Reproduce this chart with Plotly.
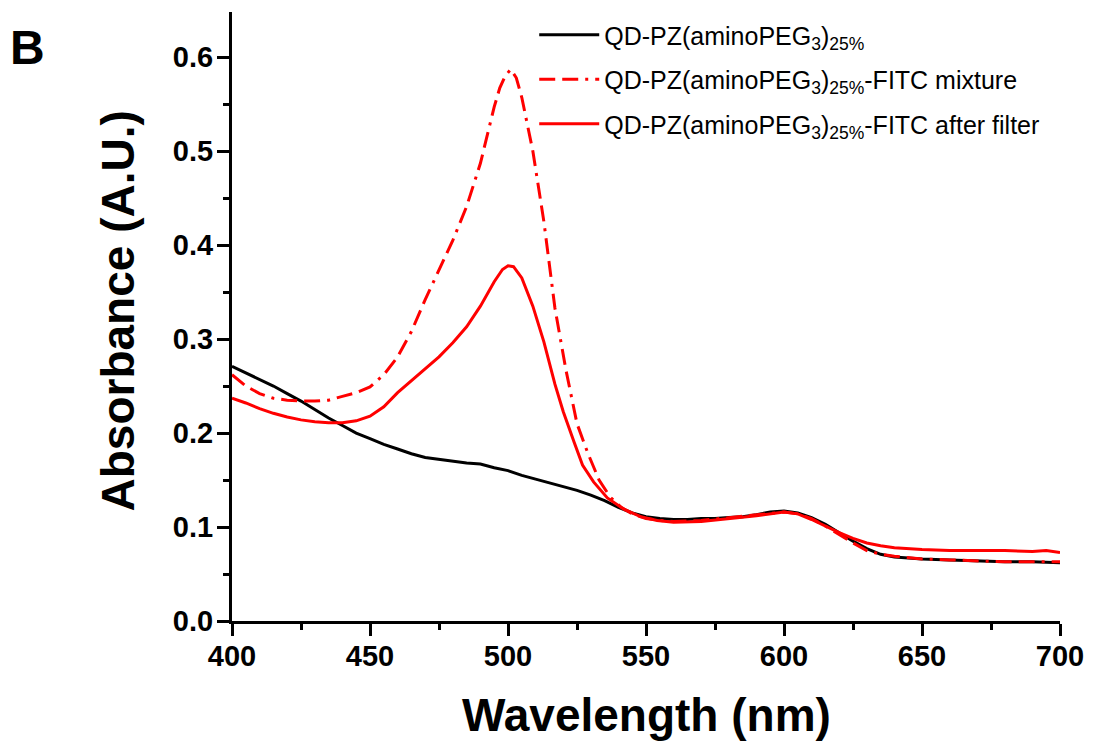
import plotly.graph_objects as go

# --- data ---
wl_qd = [400, 405, 410, 415, 420, 425, 430, 435, 440, 445, 450, 455, 460, 465, 470, 475,
         480, 485, 490, 495, 500, 505, 510, 515, 520, 525, 530, 535, 540, 545, 550, 555,
         560, 565, 570, 575, 580, 585, 590, 595, 600, 605, 610, 615, 620, 625, 630, 635,
         640, 645, 650, 660, 670, 680, 690, 700]
abs_qd = [0.271, 0.264, 0.257, 0.250, 0.242, 0.234, 0.225, 0.216, 0.208, 0.200, 0.194,
          0.188, 0.183, 0.178, 0.174, 0.172, 0.170, 0.168, 0.167, 0.163, 0.160, 0.155,
          0.151, 0.147, 0.143, 0.139, 0.134, 0.128, 0.121, 0.115, 0.111, 0.109, 0.108,
          0.108, 0.109, 0.109, 0.110, 0.111, 0.113, 0.116, 0.117, 0.115, 0.110, 0.103,
          0.094, 0.085, 0.077, 0.071, 0.068, 0.067, 0.066, 0.065, 0.064, 0.063, 0.063, 0.062]

wl_mix = [400, 405, 410, 415, 420, 425, 430, 435, 440, 445, 450, 455, 460, 465, 470, 475,
          480, 485, 490, 495, 497, 499, 501, 503, 505, 509, 513, 517, 521, 525, 529, 533,
          537, 541, 545, 550, 555, 560, 570, 580, 590, 600, 605, 610, 615, 620, 625, 630,
          635, 640, 650, 660, 670, 680, 690, 700]
abs_mix = [0.262, 0.250, 0.242, 0.237, 0.235, 0.234, 0.234, 0.235, 0.239, 0.243, 0.249,
           0.262, 0.281, 0.308, 0.342, 0.374, 0.405, 0.441, 0.487, 0.547, 0.567, 0.580,
           0.587, 0.578, 0.557, 0.500, 0.425, 0.333, 0.267, 0.210, 0.178, 0.150, 0.132,
           0.121, 0.114, 0.109, 0.107, 0.106, 0.107, 0.110, 0.113, 0.116, 0.114, 0.109,
           0.101, 0.092, 0.083, 0.075, 0.071, 0.069, 0.066, 0.065, 0.064, 0.063, 0.063, 0.063]

wl_filt = [400, 405, 410, 415, 420, 425, 430, 435, 440, 445, 450, 455, 460, 465, 470, 475,
           480, 485, 490, 495, 498, 500, 502, 505, 509, 513, 517, 520, 524, 527, 531, 536,
           542, 548, 554, 560, 570, 580, 590, 600, 605, 610, 615, 620, 625, 630, 635, 640,
           650, 660, 670, 680, 690, 695, 700]
abs_filt = [0.237, 0.232, 0.226, 0.221, 0.217, 0.214, 0.212, 0.211, 0.211, 0.213, 0.218,
            0.228, 0.243, 0.256, 0.268, 0.281, 0.296, 0.313, 0.335, 0.361, 0.374, 0.378,
            0.377, 0.365, 0.335, 0.297, 0.252, 0.223, 0.190, 0.166, 0.148, 0.131, 0.119,
            0.111, 0.107, 0.105, 0.106, 0.109, 0.112, 0.116, 0.114, 0.108, 0.101, 0.094,
            0.088, 0.083, 0.080, 0.078, 0.076, 0.075, 0.075, 0.075, 0.074, 0.075, 0.073]

names = ["QD-PZ(aminoPEG<sub>3</sub>)<sub>25%</sub>",
         "QD-PZ(aminoPEG<sub>3</sub>)<sub>25%</sub>-FITC mixture",
         "QD-PZ(aminoPEG<sub>3</sub>)<sub>25%</sub>-FITC after filter"]

x_ticks = [400, 450, 500, 550, 600, 650, 700]
y_ticks = [0.0, 0.1, 0.2, 0.3, 0.4, 0.5, 0.6]

FONT = "Liberation Sans"
DASHDOT = "16px,7px,16px,7px,3px,7px"

fig = go.Figure()
fig.add_trace(go.Scatter(x=wl_qd, y=abs_qd, mode="lines", name=names[0], legendgroup="a",
                         legendrank=1, line=dict(color="black", width=3)))
fig.add_trace(go.Scatter(x=wl_mix, y=abs_mix, mode="lines", name=names[1], legendgroup="b",
                         legendrank=2, line=dict(color="#ff0000", width=3, dash=DASHDOT)))
fig.add_trace(go.Scatter(x=wl_filt, y=abs_filt, mode="lines", name=names[2], legendgroup="c",
                         legendrank=3, line=dict(color="#ff0000", width=3)))

axis_common = dict(
    showline=True, linecolor="black", linewidth=3, mirror=False,
    ticks="outside", ticklen=12, tickwidth=3, tickcolor="black",
    showgrid=False, zeroline=False,
    tickfont=dict(family=FONT, size=29, color="black", weight="bold"),
)
fig.update_xaxes(range=[400, 700], tickvals=x_ticks, ticklabelstandoff=-5,
                 minor=dict(ticks="outside", ticklen=6, tickwidth=3, tickcolor="black", dtick=25, tick0=400),
                 **axis_common)
fig.update_yaxes(range=[0, 0.648], tickvals=y_ticks, tickformat=".1f", ticklabelstandoff=-2,
                 minor=dict(ticks="outside", ticklen=6, tickwidth=3, tickcolor="black", dtick=0.05, tick0=0),
                 **axis_common)

fig.update_layout(
    width=1113, height=753,
    margin=dict(l=224, r=61, t=4, b=140),
    paper_bgcolor="white", plot_bgcolor="white",
    showlegend=True,
    legend=dict(x=0.365, y=1.0, xanchor="left", yanchor="top",
                bgcolor="rgba(0,0,0,0)", borderwidth=0,
                font=dict(family=FONT, size=25, color="black"),
                tracegroupgap=9, itemwidth=60, traceorder="grouped"),
    annotations=[
        dict(text="Absorbance (A.U.)", xref="paper", yref="paper", x=0, y=0.5,
             xanchor="center", yanchor="middle", xshift=-115, yshift=5, textangle=-90,
             showarrow=False, font=dict(family=FONT, size=46, color="black", weight="bold")),
        dict(text="Wavelength (nm)", xref="paper", yref="paper", x=0.5, y=0,
             xanchor="center", yanchor="middle", yshift=-94,
             showarrow=False, font=dict(family=FONT, size=46, color="black", weight="bold")),
        dict(text="B", xref="paper", yref="paper", x=0, y=1,
             xanchor="center", yanchor="middle", xshift=-205, yshift=-35,
             showarrow=False, font=dict(family=FONT, size=48, color="black", weight="bold")),
    ],
)

fig.write_html("out.html")
